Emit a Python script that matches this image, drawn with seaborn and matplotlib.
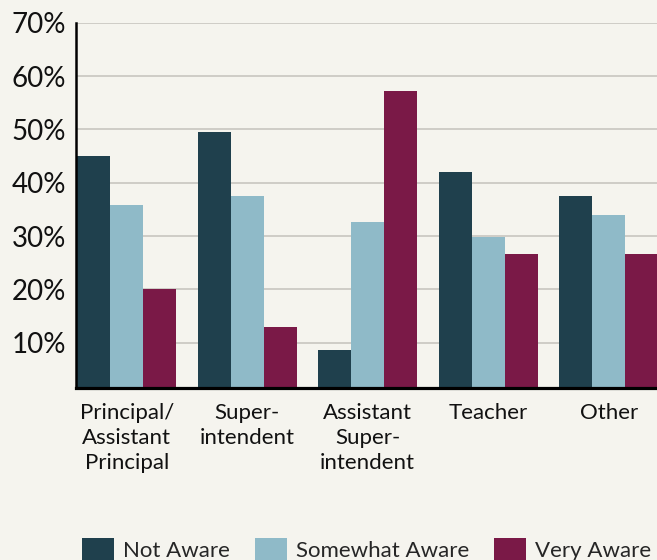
import matplotlib
matplotlib.use("Agg")
import matplotlib.pyplot as plt
import seaborn as sns
import pandas as pd

# ---- data ----
categories = ["Principal/\nAssistant\nPrincipal", "Super-\nintendent",
              "Assistant\nSuper-\nintendent", "Teacher", "Other"]
series_names = ["Not Aware", "Somewhat Aware", "Very Aware"]
not_aware = [45.0, 49.5, 8.6, 42.0, 37.5]
somewhat_aware = [35.8, 37.5, 32.6, 29.8, 33.9]
very_aware = [20.0, 12.9, 57.2, 26.6, 26.6]
y_ticks = [10, 20, 30, 40, 50, 60, 70]
y_tick_labels = ["10%", "20%", "30%", "40%", "50%", "60%", "70%"]

colors = ["#1f404d", "#8fbac8", "#7a1947"]
bg = "#f5f4ee"

rows = []
for name, vals in zip(series_names, [not_aware, somewhat_aware, very_aware]):
    for c, v in zip(categories, vals):
        rows.append({"Role": c, "Share": v, "Awareness": name})
df = pd.DataFrame(rows)

sns.set_theme(style="white")
plt.rcParams['font.family'] = ['Lato', 'DejaVu Sans']

fig = plt.figure(figsize=(6.57, 5.6), dpi=100, facecolor=bg)
ax = fig.add_axes([76 / 657, 1 - 388 / 560, 1 - 76 / 657, (388 - 22.7) / 560])
ax.set_facecolor(bg)

sns.barplot(data=df, x="Role", y="Share", hue="Awareness", order=categories,
            hue_order=series_names, palette=colors, width=0.82, linewidth=0,
            saturation=1, ax=ax, zorder=2)

ax.set_xlim(-0.42, 4.40)
ax.set_ylim(1.5, 70)
ax.set_yticks(y_ticks)
ax.set_yticklabels(y_tick_labels, fontsize=20, color="#111111")
ax.tick_params(axis="y", length=0, pad=7)
ax.tick_params(axis="x", length=0, pad=11, labelsize=16, labelcolor="#111111")
for t in ax.get_xticklabels():
    t.set_linespacing(1.3)
ax.set_xlabel("")
ax.set_ylabel("")

ax.yaxis.grid(True, color="#cbc9c3", linewidth=1.3)
ax.xaxis.grid(False)
ax.set_axisbelow(True)

for s in ["top", "right"]:
    ax.spines[s].set_visible(False)
ax.spines["left"].set_color("black")
ax.spines["left"].set_linewidth(1.8)
ax.spines["bottom"].set_color("black")
ax.spines["bottom"].set_linewidth(2.3)
ax.spines["bottom"].set_zorder(5)

handles, labels = ax.get_legend_handles_labels()
if ax.legend_ is not None:
    ax.legend_.remove()
fig.legend(handles, labels, loc="lower left", bbox_to_anchor=(82 / 657, -0.002),
           ncol=3, frameon=False, fontsize=16, handlelength=1.45,
           handleheight=1.2, handletextpad=0.4, columnspacing=1.12,
           borderpad=0, borderaxespad=0)

fig.savefig("out.png", dpi=100, facecolor=bg)
